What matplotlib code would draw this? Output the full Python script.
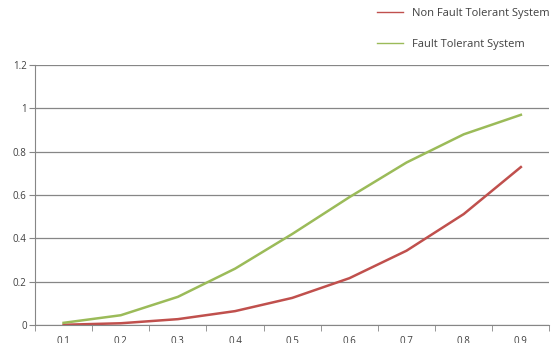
import matplotlib
matplotlib.use("Agg")
import matplotlib.pyplot as plt
import numpy as np

# reliability values
categories = ["0.1", "0.2", "0.3", "0.4", "0.5", "0.6", "0.7", "0.8", "0.9"]
non_fault_tolerant = [0.001, 0.008, 0.027, 0.064, 0.125, 0.216, 0.343, 0.512, 0.729]
fault_tolerant = [0.01, 0.045, 0.13, 0.26, 0.42, 0.59, 0.75, 0.88, 0.97]

red = "#C0504D"
green = "#9BBB59"
grey = "#868686"
txt = "#404040"

plt.rcParams["font.family"] = ["Open Sans", "DejaVu Sans"]

fig = plt.figure(figsize=(5.52, 3.43), dpi=100)
ax = fig.add_axes([0.0634, 0.0525, 0.932, 0.758])

x = np.arange(len(categories))
ax.plot(x, non_fault_tolerant, color=red, lw=1.8, label="Non Fault Tolerant System")
ax.plot(x, fault_tolerant, color=green, lw=1.8, label="Fault Tolerant System")

ax.set_xlim(-0.5, len(categories) - 0.5)
ax.set_ylim(0, 1.2)
yt = [0, 0.2, 0.4, 0.6, 0.8, 1, 1.2]
ax.set_yticks(yt)
ax.set_yticklabels(["0", "0.2", "0.4", "0.6", "0.8", "1", "1.2"])
ax.set_xticks(x)
ax.set_xticklabels(categories)
ax.set_xticks(np.arange(-0.5, len(categories)), minor=True)
ax.tick_params(axis="x", which="major", length=0, pad=8, labelsize=7, colors=txt)
ax.tick_params(axis="x", which="minor", length=4, color=grey, direction="out")
ax.tick_params(axis="y", length=4, color=grey, labelsize=7, colors=txt, pad=2)

ax.grid(axis="y", color=grey, lw=0.9)
ax.set_axisbelow(True)
for s in ["top", "right"]:
    ax.spines[s].set_visible(False)
ax.spines["left"].set_color(grey)
ax.spines["bottom"].set_color(grey)

leg = fig.legend(loc="upper left", bbox_to_anchor=(0.665, 1.005), frameon=False,
                 fontsize=8, handlelength=2.3, handletextpad=0.8, labelspacing=1.75)
for line in leg.get_lines():
    line.set_linewidth(1.0)
for t in leg.get_texts():
    t.set_color(txt)

fig.savefig("out.png", dpi=100)
